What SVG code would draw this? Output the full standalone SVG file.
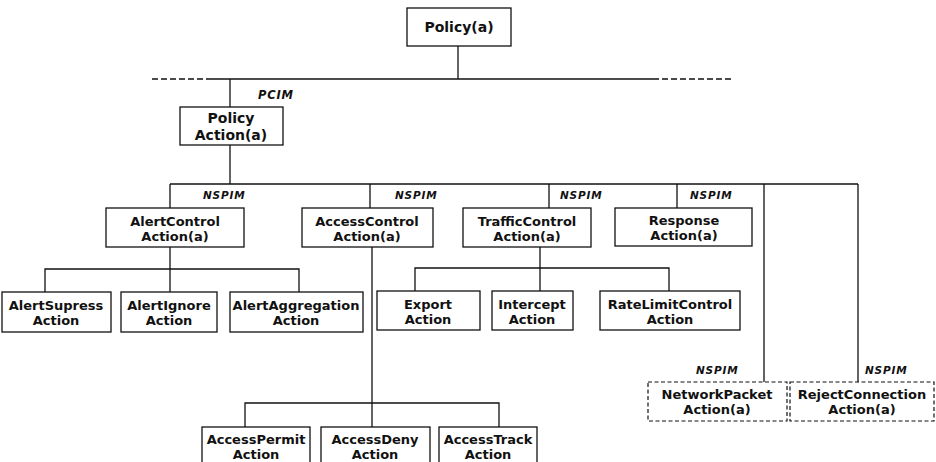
<svg xmlns="http://www.w3.org/2000/svg" width="936" height="462" viewBox="0 0 936 462">
  <style>
    .box { fill: #fff; stroke: #111; stroke-width: 1.3; }
    .abs { fill: #fff; stroke: #111; stroke-width: 1.2; stroke-dasharray: 4 2.5; }
    .lbl { font-family: "DejaVu Sans", sans-serif; font-weight: bold; font-size: 13px; fill: #111; text-anchor: middle; }
    .pkg { font-family: "DejaVu Sans", sans-serif; font-style: italic; font-weight: bold; font-size: 10.5px; fill: #111; letter-spacing: 0.8px; }
    .wire { fill: none; stroke: #111; stroke-width: 1.3; }
    .dash { fill: none; stroke: #111; stroke-width: 1.3; stroke-dasharray: 6 3; }
  </style>
  <rect width="936" height="462" fill="#fff"/>

  <!-- connectors -->
  <g id="connectors">
    <path class="wire" d="M458 46 V79"/>
    <path class="dash" d="M152 79 H212"/>
    <path class="wire" d="M212 79 H653"/>
    <path class="dash" d="M653 79 H732"/>
    <path class="wire" d="M230 79 V107"/>
    <path class="wire" d="M230 145 V184"/>
    <path class="wire" d="M170 184 H858"/>
    <path class="wire" d="M170 184 V208 M370 184 V208 M549 184 V208 M677 184 V208 M764 184 V382 M858 184 V382"/>
    <!-- AlertControl children -->
    <path class="wire" d="M170 247 V269 M45 292 V269 H299 V292 M170 269 V292"/>
    <!-- TrafficControl children -->
    <path class="wire" d="M540 247 V268 M415 291 V268 H669 V291 M540 268 V291"/>
    <!-- AccessControl children -->
    <path class="wire" d="M372 247 V403 M245 427 V403 H499 V427 M372 403 V427"/>
  </g>

  <!-- package labels -->
  <g id="package-labels">
    <text class="pkg" x="258" y="99" style="font-size:11.5px">PCIM</text>
    <text class="pkg" x="203" y="199">NSPIM</text>
    <text class="pkg" x="395" y="199">NSPIM</text>
    <text class="pkg" x="560" y="199">NSPIM</text>
    <text class="pkg" x="690" y="199">NSPIM</text>
    <text class="pkg" x="696" y="374">NSPIM</text>
    <text class="pkg" x="865" y="374">NSPIM</text>
  </g>

  <g id="policy">
    <rect class="box" x="407" y="8" width="104" height="38"/>
    <text class="lbl" x="459" y="32" style="font-size:14px">Policy(a)</text>
  </g>

  <g id="policy-action">
    <rect class="box" x="180" y="107" width="103" height="38"/>
    <text class="lbl" x="231" y="123" style="font-size:14px">Policy</text>
    <text class="lbl" x="231" y="140" style="font-size:14px">Action(a)</text>
  </g>

  <g id="alert-control-action">
    <rect class="box" x="106" y="208" width="138" height="39"/>
    <text class="lbl" x="175" y="226">AlertControl</text>
    <text class="lbl" x="175" y="241">Action(a)</text>
  </g>

  <g id="access-control-action">
    <rect class="box" x="302" y="208" width="131" height="39"/>
    <text class="lbl" x="367" y="226">AccessControl</text>
    <text class="lbl" x="367" y="241">Action(a)</text>
  </g>

  <g id="traffic-control-action">
    <rect class="box" x="463" y="208" width="128" height="39"/>
    <text class="lbl" x="527" y="226">TrafficControl</text>
    <text class="lbl" x="527" y="241">Action(a)</text>
  </g>

  <g id="response-action">
    <rect class="box" x="615" y="208" width="137" height="38"/>
    <text class="lbl" x="684" y="225">Response</text>
    <text class="lbl" x="684" y="240">Action(a)</text>
  </g>

  <g id="alert-supress-action">
    <rect class="box" x="2" y="292" width="109" height="40"/>
    <text class="lbl" x="56" y="310">AlertSupress</text>
    <text class="lbl" x="56" y="325">Action</text>
  </g>

  <g id="alert-ignore-action">
    <rect class="box" x="121" y="292" width="96" height="40"/>
    <text class="lbl" x="169" y="310">AlertIgnore</text>
    <text class="lbl" x="169" y="325">Action</text>
  </g>

  <g id="alert-aggregation-action">
    <rect class="box" x="230" y="292" width="133" height="40"/>
    <text class="lbl" x="296" y="310">AlertAggregation</text>
    <text class="lbl" x="296" y="325">Action</text>
  </g>

  <g id="export-action">
    <rect class="box" x="377" y="291" width="103" height="39"/>
    <text class="lbl" x="428" y="309">Export</text>
    <text class="lbl" x="428" y="324">Action</text>
  </g>

  <g id="intercept-action">
    <rect class="box" x="492" y="291" width="81" height="39"/>
    <text class="lbl" x="532" y="309">Intercept</text>
    <text class="lbl" x="532" y="324">Action</text>
  </g>

  <g id="rate-limit-control-action">
    <rect class="box" x="600" y="291" width="140" height="39"/>
    <text class="lbl" x="670" y="309">RateLimitControl</text>
    <text class="lbl" x="670" y="324">Action</text>
  </g>

  <g id="access-permit-action">
    <rect class="box" x="202" y="427" width="108" height="42"/>
    <text class="lbl" x="256" y="444">AccessPermit</text>
    <text class="lbl" x="256" y="459">Action</text>
  </g>

  <g id="access-deny-action">
    <rect class="box" x="321" y="427" width="109" height="42"/>
    <text class="lbl" x="375" y="444">AccessDeny</text>
    <text class="lbl" x="375" y="459">Action</text>
  </g>

  <g id="access-track-action">
    <rect class="box" x="439" y="427" width="98" height="42"/>
    <text class="lbl" x="488" y="444">AccessTrack</text>
    <text class="lbl" x="488" y="459">Action</text>
  </g>

  <g id="network-packet-action">
    <rect class="abs" x="648" y="382" width="139" height="39"/>
    <text class="lbl" x="717" y="399">NetworkPacket</text>
    <text class="lbl" x="717" y="414">Action(a)</text>
  </g>

  <g id="reject-connection-action">
    <rect class="abs" x="790" y="382" width="144" height="39"/>
    <text class="lbl" x="862" y="399">RejectConnection</text>
    <text class="lbl" x="862" y="414">Action(a)</text>
  </g>
</svg>
